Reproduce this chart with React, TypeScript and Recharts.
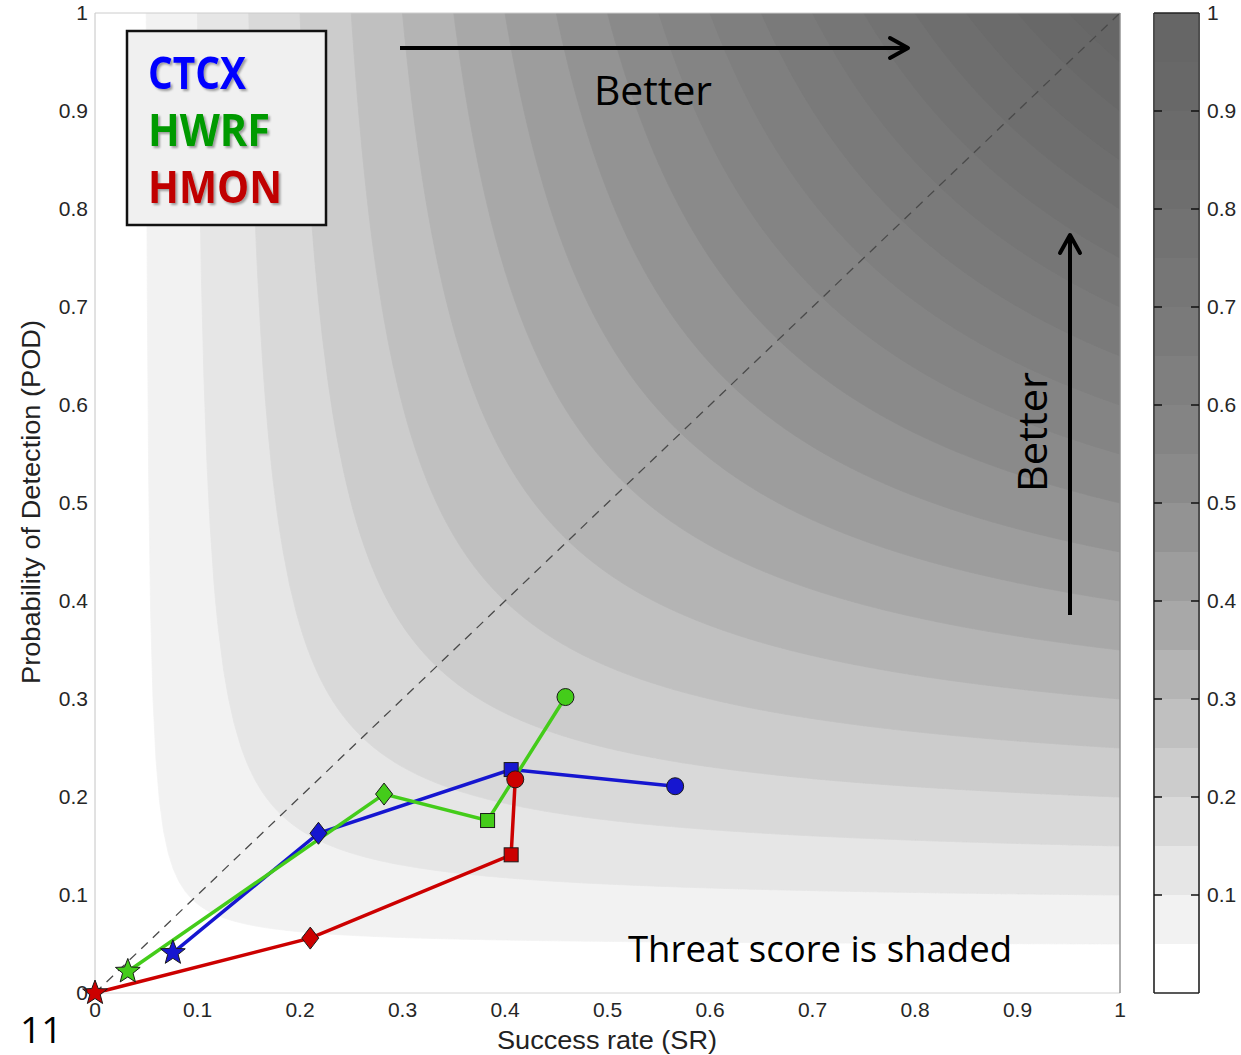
import React from 'react';
import { ComposedChart, Bar, Area, Line, XAxis, YAxis } from 'recharts';

// Threat-score contour levels and their shading (band above each level)
const TS_LEVELS = [0.05, 0.1, 0.15, 0.2, 0.25, 0.3, 0.35, 0.4, 0.45, 0.5, 0.55, 0.6, 0.65, 0.7, 0.75, 0.8, 0.85, 0.9, 0.95];
const TS_GRAYS = ['#f2f2f2', '#e6e6e6', '#d9d9d9', '#cccccc', '#c0c0c0', '#b4b4b4', '#a8a8a8', '#9d9d9d', '#939393', '#8a8a8a', '#848484', '#7f7f7f', '#7a7a7a', '#767676', '#727272', '#6e6e6e', '#6b6b6b', '#686868', '#666666'];

// Forecast verification points per model (star, diamond, square, circle)
const MARKERS = ['star', 'diamond', 'square', 'circle'];
const CTCX_SR = [0.076, 0.218, 0.406, 0.566];
const CTCX_POD = [0.041, 0.163, 0.228, 0.211];
const HWRF_SR = [0.032, 0.282, 0.383, 0.459];
const HWRF_POD = [0.022, 0.203, 0.176, 0.302];
const HMON_SR = [0.0, 0.21, 0.406, 0.41];
const HMON_POD = [0.0, 0.056, 0.141, 0.218];

const X_TICKS = [0, 0.1, 0.2, 0.3, 0.4, 0.5, 0.6, 0.7, 0.8, 0.9, 1];
const X_TICK_LABELS = ['0', '0.1', '0.2', '0.3', '0.4', '0.5', '0.6', '0.7', '0.8', '0.9', '1'];
const Y_TICKS = [0, 0.1, 0.2, 0.3, 0.4, 0.5, 0.6, 0.7, 0.8, 0.9, 1];
const Y_TICK_LABELS = ['0', '0.1', '0.2', '0.3', '0.4', '0.5', '0.6', '0.7', '0.8', '0.9', '1'];
const CB_TICKS = [0.1, 0.2, 0.3, 0.4, 0.5, 0.6, 0.7, 0.8, 0.9, 1];
const CB_TICK_LABELS = ['0.1', '0.2', '0.3', '0.4', '0.5', '0.6', '0.7', '0.8', '0.9', '1'];
const CB_INNER_TICKS = [0.1, 0.2, 0.3, 0.4, 0.5, 0.6, 0.7, 0.8, 0.9];

const COLORS = { CTCX: '#1616d0', HWRF: '#44cc1a', HMON: '#cc0000' };
const LEGEND_COLORS = { CTCX: '#0000ff', HWRF: '#009a00', HMON: '#c00000' };

// Threat score contour: POD on the line TS = t for a given success rate
const podOnContour = (t: number, sr: number) => 1 / (1 / t + 1 - 1 / sr);

const buildContourRows = () => {
  const xs = new Set<number>();
  const N = 60;
  TS_LEVELS.forEach((t) => {
    for (let k = 0; k <= N; k++) {
      const u = k / N;
      xs.add(+(t + (1 - t) * u * u).toFixed(6));
    }
  });
  const sorted = Array.from(xs).sort((a, b) => a - b);
  return sorted.map((sr) => {
    const row: Record<string, number | null> = { sr };
    TS_LEVELS.forEach((t, i) => {
      row['ts' + i] = sr >= t - 1e-9 ? Math.min(1, podOnContour(t, sr)) : null;
    });
    return row;
  });
};

const contourRows = buildContourRows();

const toSeries = (srs: number[], pods: number[]) =>
  srs.map((sr, i) => ({ sr, pod: pods[i], marker: MARKERS[i] }));

const ctcxData = toSeries(CTCX_SR, CTCX_POD);
const hwrfData = toSeries(HWRF_SR, HWRF_POD);
const hmonData = toSeries(HMON_SR, HMON_POD);
const diagonalData = [{ sr: 0, pod: 0 }, { sr: 1, pod: 1 }];

const starPath = (cx: number, cy: number, R: number, r: number) => {
  const pts: string[] = [];
  for (let k = 0; k < 10; k++) {
    const ang = (-90 + k * 36) * (Math.PI / 180);
    const rad = k % 2 === 0 ? R : r;
    pts.push(`${(cx + rad * Math.cos(ang)).toFixed(2)},${(cy + rad * Math.sin(ang)).toFixed(2)}`);
  }
  return 'M' + pts.join('L') + 'Z';
};

const makeDot = (color: string, name: string) => (p: any) => {
  const { cx, cy, index, payload } = p;
  const key = `${name}-${index}`;
  const edge = { stroke: '#1a1a1a', strokeWidth: 1 };
  if (cx == null || cy == null) return <g key={key} />;
  switch (payload.marker) {
    case 'star':
      return <path key={key} d={starPath(cx, cy, 13, 5.5)} fill={color} {...edge} />;
    case 'diamond':
      return <path key={key} d={`M${cx},${cy - 11}L${cx + 8.5},${cy}L${cx},${cy + 11}L${cx - 8.5},${cy}Z`} fill={color} {...edge} />;
    case 'square':
      return <rect key={key} x={cx - 7} y={cy - 7} width={14} height={14} fill={color} {...edge} />;
    default:
      return <circle key={key} cx={cx} cy={cy} r={8.5} fill={color} {...edge} />;
  }
};

const tickStyle = { fontFamily: '"Liberation Sans", Arial, sans-serif', fontSize: 21, fill: '#262626' };
const blankTick = { fontSize: 1, fill: 'transparent' };
const hiddenLine = { stroke: 'transparent', strokeWidth: 0, dot: false, activeDot: false, isAnimationActive: false, legendType: 'none' as const };

function MainChart() {
  return (
    <ComposedChart
      width={1241}
      height={1055}
      data={contourRows}
      margin={{ top: 13, right: 121, bottom: 0, left: 0 }}
    >
      <XAxis
        dataKey="sr"
        type="number"
        domain={[0, 1]}
        ticks={X_TICKS}
        tickFormatter={(_v: number, i: number) => X_TICK_LABELS[i]}
        height={62}
        tickSize={0}
        tickMargin={9}
        axisLine={{ stroke: '#d4d4d4' }}
        tick={tickStyle}
        interval={0}
      />
      <YAxis
        type="number"
        domain={[0, 1]}
        ticks={Y_TICKS}
        tickFormatter={(_v: number, i: number) => Y_TICK_LABELS[i]}
        width={95}
        tickSize={0}
        tickMargin={7}
        axisLine={{ stroke: '#c4c4c4' }}
        tick={tickStyle}
        interval={0}
      />

      {TS_LEVELS.map((t, i) => (
        <Area
          key={'ts' + i}
          dataKey={'ts' + i}
          type="linear"
          baseValue={1}
          fill={TS_GRAYS[i]}
          fillOpacity={1}
          stroke={TS_GRAYS[i]}
          strokeWidth={0.8}
          dot={false}
          activeDot={false}
          connectNulls={false}
          isAnimationActive={false}
        />
      ))}

      <Line
        data={diagonalData}
        dataKey="pod"
        type="linear"
        stroke="#4a4a4a"
        strokeWidth={1.3}
        strokeDasharray="9 7"
        dot={false}
        activeDot={false}
        isAnimationActive={false}
      />

      <Line data={ctcxData} dataKey="pod" type="linear" stroke={COLORS.CTCX} strokeWidth={3.5} dot={makeDot(COLORS.CTCX, 'ctcx')} activeDot={false} isAnimationActive={false} />
      <Line data={hwrfData} dataKey="pod" type="linear" stroke={COLORS.HWRF} strokeWidth={3.5} dot={makeDot(COLORS.HWRF, 'hwrf')} activeDot={false} isAnimationActive={false} />
      <Line data={hmonData} dataKey="pod" type="linear" stroke={COLORS.HMON} strokeWidth={3.5} dot={makeDot(COLORS.HMON, 'hmon')} activeDot={false} isAnimationActive={false} />
    </ComposedChart>
  );
}

// Top and right edges of the plot frame, drawn over the shading
function PlotFrame() {
  return (
    <ComposedChart width={1241} height={1055} data={diagonalData} margin={{ top: 12, right: 120, bottom: 62, left: 95 }}>
      <XAxis xAxisId="top" dataKey="sr" orientation="top" type="number" domain={[0, 1]} height={1} tick={false} tickLine={false} axisLine={{ stroke: '#cccccc' }} />
      <YAxis yAxisId="right" orientation="right" type="number" domain={[0, 1]} width={1} tick={false} tickLine={false} axisLine={{ stroke: '#8c8c8c', strokeWidth: 1.4 }} />
      <Line dataKey="pod" xAxisId="top" yAxisId="right" {...hiddenLine} />
    </ComposedChart>
  );
}

// Colour bar: one stacked column, a white band under the first level, then one band per level
const CB_BOUNDS = [0, ...TS_LEVELS, 1];
const CB_FILLS = ['#ffffff', ...TS_GRAYS];
const colorBarRow = (() => {
  const row: Record<string, number | string> = { name: 'TS' };
  CB_FILLS.forEach((_c, i) => { row['b' + i] = CB_BOUNDS[i + 1] - CB_BOUNDS[i]; });
  return [row];
})();
const cbFrameRows = [{ x: 0, v: 0 }, { x: 1, v: 1 }];

function ColorBarBands() {
  return (
    <ComposedChart width={101} height={1055} data={colorBarRow} margin={{ top: 13, right: 43, bottom: 62, left: 15 }} barCategoryGap={0} barGap={0}>
      <XAxis dataKey="name" hide />
      <YAxis yAxisId="cb" type="number" domain={[0, 1]} hide />
      {CB_FILLS.map((c, i) => (
        <Bar key={'b' + i} dataKey={'b' + i} stackId="cb" yAxisId="cb" fill={c} stroke="none" isAnimationActive={false} />
      ))}
    </ComposedChart>
  );
}

function ColorBarFrame() {
  const edge = { stroke: '#222', strokeWidth: 1.6 };
  const inner = { stroke: '#111', strokeWidth: 1.5 };
  return (
    <ComposedChart width={101} height={1055} data={cbFrameRows} margin={{ top: 12, right: 0, bottom: 61, left: 14 }}>
      <XAxis dataKey="x" type="number" domain={[0, 1]} height={1} tick={false} tickLine={false} axisLine={edge} />
      <XAxis xAxisId="top" dataKey="x" type="number" domain={[0, 1]} orientation="top" height={1} tick={false} tickLine={false} axisLine={edge} />
      <YAxis yAxisId="a_left" orientation="left" mirror width={1} type="number" domain={[0, 1]} ticks={CB_INNER_TICKS} tickSize={8} tick={blankTick} axisLine={edge} tickLine={inner} interval={0} />
      <YAxis
        yAxisId="z_labels"
        orientation="right"
        width={42}
        type="number"
        domain={[0, 1]}
        ticks={CB_TICKS}
        tickFormatter={(_v: number, i: number) => CB_TICK_LABELS[i]}
        tickSize={0}
        tickMargin={8}
        axisLine={false}
        tickLine={false}
        tick={{ ...tickStyle, textAnchor: 'start' }}
        interval={0}
      />
      <YAxis yAxisId="a_right" orientation="right" mirror width={1} type="number" domain={[0, 1]} ticks={CB_INNER_TICKS} tickSize={8} tick={blankTick} axisLine={edge} tickLine={inner} interval={0} />
      <Line dataKey="v" yAxisId="a_left" {...hiddenLine} />
      <Line dataKey="v" xAxisId="top" yAxisId="a_right" {...hiddenLine} />
      <Line dataKey="v" yAxisId="z_labels" {...hiddenLine} />
    </ComposedChart>
  );
}

function Annotations() {
  const calibri = '"Open Sans", "Noto Sans", sans-serif';
  const arial = '"Liberation Sans", Arial, sans-serif';
  return (
    <svg width={1241} height={1055} style={{ position: 'absolute', left: 0, top: 0, pointerEvents: 'none' }}>
      <defs>
        <filter id="txtShadow" x="-10%" y="-20%" width="130%" height="150%">
          <feDropShadow dx="2" dy="2" stdDeviation="1.2" floodColor="#000" floodOpacity="0.35" />
        </filter>
      </defs>

      {/* legend box */}
      <rect x={127} y={31} width={199} height={194} fill="#f0f0f0" stroke="#111" strokeWidth={2.5} />
      <g fontFamily={calibri} fontWeight={700} fontSize={44} filter="url(#txtShadow)">
        <text x={148} y={89} fill={LEGEND_COLORS.CTCX} textLength={98} lengthAdjust="spacingAndGlyphs">CTCX</text>
        <text x={148} y={146} fill={LEGEND_COLORS.HWRF} textLength={122} lengthAdjust="spacingAndGlyphs">HWRF</text>
        <text x={148} y={203} fill={LEGEND_COLORS.HMON} textLength={134} lengthAdjust="spacingAndGlyphs">HMON</text>
      </g>

      {/* horizontal "Better" arrow */}
      <line x1={400} y1={48} x2={907} y2={48} stroke="#000" strokeWidth={4} />
      <polyline points="890,38 908,48 890,58" fill="none" stroke="#000" strokeWidth={4} strokeLinecap="round" strokeLinejoin="round" />
      <text x={653} y={105} textAnchor="middle" fontFamily={calibri} fontSize={41} fill="#000" textLength={118} lengthAdjust="spacingAndGlyphs">Better</text>

      {/* vertical "Better" arrow */}
      <line x1={1070} y1={615} x2={1070} y2={236} stroke="#000" strokeWidth={4} />
      <polyline points="1060,253 1070,235 1080,253" fill="none" stroke="#000" strokeWidth={4} strokeLinecap="round" strokeLinejoin="round" />
      <text x={1047} y={432} textAnchor="middle" transform="rotate(-90 1047 432)" fontFamily={calibri} fontSize={41} fill="#000" textLength={120} lengthAdjust="spacingAndGlyphs">Better</text>

      <text x={628} y={962} fontFamily={calibri} fontSize={36} fill="#000" textLength={384} lengthAdjust="spacingAndGlyphs">Threat score is shaded</text>

      {/* axis titles */}
      <text x={607} y={1049} textAnchor="middle" fontFamily={arial} fontSize={26} fill="#222" textLength={220} lengthAdjust="spacingAndGlyphs">Success rate (SR)</text>
      <text x={40} y={502} textAnchor="middle" transform="rotate(-90 40 502)" fontFamily={arial} fontSize={26} fill="#222" textLength={364} lengthAdjust="spacingAndGlyphs">Probability of Detection (POD)</text>

      {/* slide number */}
      <text x={20} y={1043} fontFamily={calibri} fontSize={37} fill="#000">11</text>
    </svg>
  );
}

export default function App() {
  return (
    <div style={{ position: 'absolute', left: 0, top: 0, width: 1241, height: 1055, background: '#ffffff', overflow: 'hidden' }}>
      <div style={{ position: 'absolute', left: 0, top: 0 }}>
        <MainChart />
      </div>
      <div style={{ position: 'absolute', left: 0, top: 0 }}>
        <PlotFrame />
      </div>
      <div style={{ position: 'absolute', left: 1140, top: 0 }}>
        <ColorBarBands />
      </div>
      <div style={{ position: 'absolute', left: 1140, top: 0 }}>
        <ColorBarFrame />
      </div>
      <Annotations />
    </div>
  );
}
